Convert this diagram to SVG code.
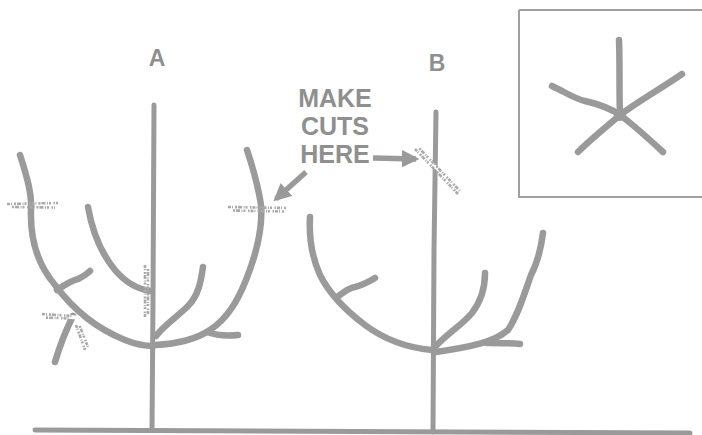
<svg xmlns="http://www.w3.org/2000/svg" width="702" height="435" viewBox="0 0 702 435">
  <style>
    .limb { fill: none; stroke: #9a9a9a; stroke-width: 6.5; stroke-linecap: round; stroke-linejoin: round; }
    .trunk { fill: none; stroke: #9a9a9a; stroke-width: 5; stroke-linecap: round; }
    .label { font-family: "Liberation Sans", Arial, sans-serif; font-weight: bold; fill: #8f8f8f; text-anchor: middle; }
    .gap { fill: none; stroke: #ffffff; stroke-width: 4; stroke-linecap: butt; }
    .stip { fill: none; stroke: #aaaaaa; stroke-width: 2.6; stroke-dasharray: 3 1 1 2 2 1 4 1.5 1 1 2 2.5 1.5 1; }
    .pointer { fill: none; stroke: #9a9a9a; stroke-width: 5.5; }
  </style>
  <defs>
    <marker id="head" viewBox="0 0 10 10" refX="8" refY="5" markerWidth="3.2" markerHeight="3.4" orient="auto">
      <path d="M0,0 L10,5 L0,10 z" fill="#9a9a9a"/>
    </marker>
  </defs>

  <rect width="702" height="435" fill="#ffffff"/>

  <!-- ground -->
  <path class="trunk" d="M35,430 L690,433" stroke-width="4.5"/>

  <!-- tree A -->
  <g id="tree-a">
    <path class="trunk" d="M154,105 L153,300 L152,430"/>
    <!-- outer left limb -->
    <path class="limb" d="M20,155 C28,180 32,195 31,210 C30,240 38,265 55,285 C75,312 100,330 125,340 C135,344 145,346 153,346"/>
    <!-- inner left limb -->
    <path class="limb" d="M88,207 C92,230 100,252 115,270 C125,282 138,289 150,291"/>
    <!-- short spur on outer left limb -->
    <path class="limb" d="M57,290 C66,284 72,280 78,279 C84,276 88,273 90,271"/>
    <!-- lower stub -->
    <path class="limb" d="M73,316 C66,330 60,345 55,362"/>
    <!-- tall right limb -->
    <path class="limb" d="M247,150 C252,165 258,185 261,205 C263,230 256,255 246,280 C238,300 228,318 210,330 C195,340 175,344 155,345"/>
    <path class="limb" d="M207,332 C218,336 228,336 238,335"/>
    <!-- middle right limb -->
    <path class="limb" d="M203,267 C201,280 199,295 188,306 C176,318 165,324 156,336"/>
    <text class="label" x="157" y="66" font-size="23">A</text>
  </g>

  <!-- tree B -->
  <g id="tree-b">
    <path class="trunk" d="M436,112 L434,250 L433,432"/>
    <!-- left limb -->
    <path class="limb" d="M310,217 C309,235 311,255 320,275 C330,295 345,310 365,325 C385,340 410,348 432,350"/>
    <!-- spur on left limb -->
    <path class="limb" d="M337,297 C345,292 348,288 355,287 C363,285 370,281 375,278"/>
    <!-- middle right limb -->
    <path class="limb" d="M485,273 C485,288 482,300 472,313 C462,325 448,333 436,346"/>
    <!-- outer right limb -->
    <path class="limb" d="M543,233 C541,248 538,262 531,275 C524,295 518,315 508,330 C495,342 470,347 436,352"/>
    <path class="limb" d="M487,343 C498,343 510,343 520,344"/>
    <text class="label" x="437" y="71" font-size="23">B</text>
  </g>

  <!-- cut marks -->
  <g id="cuts">
    <!-- outer left limb, A -->
    <path class="stip" d="M7,204 L58,203"/>
    <path class="stip" d="M10,207 L55,207.5" stroke-dashoffset="5"/>
    <!-- inner left limb at trunk, A -->
    <path class="stip" d="M145,265 L145,317"/>
    <path class="stip" d="M148,267 L148,315" stroke-dashoffset="5"/>
    <!-- lower stub, A -->
    <path class="gap" d="M62,316 L80,318"/>
    <path class="stip" d="M42,314 L72,316"/>
    <path class="stip" d="M44,317.5 L70,318.5" stroke-dashoffset="5"/>
    <path class="stip" d="M76,325 L85,350"/>
    <path class="stip" d="M79,324 L88,347" stroke-dashoffset="5"/>
    <!-- tall right limb, A -->
    <path class="stip" d="M228,207 L287,208"/>
    <path class="stip" d="M231,210.5 L285,211.5" stroke-dashoffset="5"/>
    <!-- leader, B -->
    <path class="gap" d="M430,163 L442,172"/>
    <path class="stip" d="M415,149 L458,194"/>
    <path class="stip" d="M418,147 L460,191" stroke-dashoffset="5"/>
  </g>

  <!-- callout -->
  <g id="callout">
    <text class="label" x="335" y="107" font-size="25">MAKE</text>
    <text class="label" x="335" y="135" font-size="25">CUTS</text>
    <text class="label" x="335" y="163" font-size="25">HERE</text>
  </g>

  <!-- pointers -->
  <g id="pointers">
    <path class="pointer" d="M373,158 L416,159" marker-end="url(#head)"/>
    <path class="pointer" d="M306,172 L276,199" marker-end="url(#head)"/>
  </g>

  <!-- inset: top view of the scaffold limbs -->
  <g id="inset">
    <path d="M519,10 L706,10 M519,10 L519,197 L706,197" fill="none" stroke="#a0a0a0" stroke-width="2"/>
    <path class="limb" stroke-width="5" d="M619,40 C620,65 619,90 620,115"/>
    <path class="limb" stroke-width="5" d="M552,86 C565,92 575,99 585,101 C598,104 610,108 620,115"/>
    <path class="limb" stroke-width="5" d="M682,74 C662,88 640,100 620,115"/>
    <path class="limb" stroke-width="5" d="M578,152 C590,140 605,128 620,115"/>
    <path class="limb" stroke-width="5" d="M663,152 C650,140 635,126 620,115"/>
    <circle cx="620" cy="115" r="6" fill="#9a9a9a"/>
  </g>
</svg>
